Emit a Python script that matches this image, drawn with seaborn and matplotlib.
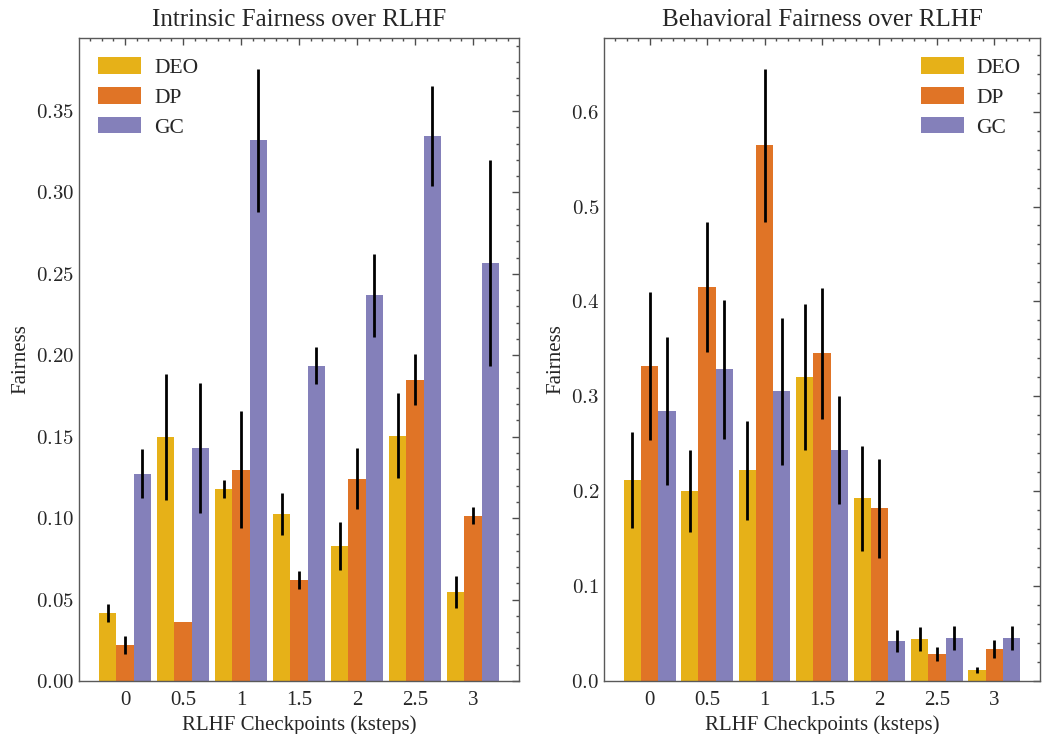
import pandas as pd
import matplotlib
matplotlib.use('Agg')
import matplotlib.pyplot as plt
import seaborn as sns
import numpy as np
from matplotlib.ticker import AutoMinorLocator, FormatStrFormatter

# checkpoints and metrics
checkpoints = ['0', '0.5', '1', '1.5', '2', '2.5', '3']
metrics = ['DEO', 'DP', 'GC']

# intrinsic fairness (left panel)
intr_deo = [0.0418, 0.150, 0.118, 0.1027, 0.083, 0.1506, 0.0547]
intr_dp = [0.0221, 0.0363, 0.1297, 0.0621, 0.1242, 0.185, 0.1014]
intr_gc = [0.1273, 0.1432, 0.332, 0.1936, 0.2368, 0.3346, 0.2565]
intr_deo_err = [0.0055, 0.0387, 0.0055, 0.013, 0.0148, 0.0262, 0.010]
intr_dp_err = [0.0058, 0.0, 0.036, 0.0057, 0.0186, 0.0158, 0.0053]
intr_gc_err = [0.015, 0.040, 0.044, 0.0115, 0.0253, 0.0305, 0.0633]

# behavioral fairness (right panel)
beh_deo = [0.2116, 0.200, 0.2221, 0.320, 0.1926, 0.0442, 0.0116]
beh_dp = [0.332, 0.4156, 0.5643, 0.3453, 0.1821, 0.0284, 0.0337]
beh_gc = [0.2842, 0.3284, 0.3053, 0.2432, 0.0421, 0.0453, 0.0453]
beh_deo_err = [0.0507, 0.0435, 0.0523, 0.077, 0.0553, 0.0126, 0.003]
beh_dp_err = [0.0776, 0.0684, 0.081, 0.069, 0.0523, 0.0077, 0.0093]
beh_gc_err = [0.0778, 0.0733, 0.0776, 0.057, 0.0118, 0.013, 0.0128]

colors = ['#E6B118', '#E07426', '#8480BA']

sns.set_theme(style='white')
plt.rcParams['font.family'] = ['Liberation Serif', 'DejaVu Serif']
plt.rcParams['mathtext.fontset'] = 'cm'
plt.rcParams['axes.edgecolor'] = '0.35'
plt.rcParams['axes.linewidth'] = 1.0


def make_df(deo, dp, gc, deo_e, dp_e, gc_e):
    rows = []
    for m, vals, errs in zip(metrics, [deo, dp, gc], [deo_e, dp_e, gc_e]):
        for c, v, e in zip(checkpoints, vals, errs):
            rows.append({'ckpt': c, 'metric': m, 'value': v, 'err': e})
    return pd.DataFrame(rows)


df_intr = make_df(intr_deo, intr_dp, intr_gc, intr_deo_err, intr_dp_err, intr_gc_err)
df_beh = make_df(beh_deo, beh_dp, beh_gc, beh_deo_err, beh_dp_err, beh_gc_err)

fig, axes = plt.subplots(1, 2, figsize=(10.46, 7.34), dpi=100)
axes[0].set_position([79 / 1046, 53 / 734, 440 / 1046, 643 / 734])
axes[1].set_position([604 / 1046, 53 / 734, 436 / 1046, 643 / 734])

panels = [(axes[0], df_intr, 'Intrinsic Fairness over RLHF', 'upper left', '$%.2f$'),
          (axes[1], df_beh, 'Behavioral Fairness over RLHF', 'upper right', '$%.1f$')]

for ax, df, title, loc, fmt in panels:
    sns.barplot(data=df, x='ckpt', y='value', hue='metric', order=checkpoints,
                hue_order=metrics, palette=colors, width=0.9, gap=0,
                saturation=1, errorbar=None, linewidth=0, ax=ax)
    # error bars on top of each bar
    for cont, m in zip(ax.containers, metrics):
        sub = df[df['metric'] == m]
        xs = [p.get_x() + p.get_width() / 2 for p in cont.patches]
        hs = [p.get_height() for p in cont.patches]
        ax.errorbar(xs, hs, yerr=sub['err'].values, fmt='none', ecolor='black',
                    elinewidth=2, capsize=0)
    ax.set_xlim(-0.795, 6.795)
    ax.set_ylim(bottom=0)
    ax.yaxis.set_major_formatter(FormatStrFormatter(fmt))
    ax.xaxis.set_minor_locator(AutoMinorLocator(5))
    ax.yaxis.set_minor_locator(AutoMinorLocator(5))
    ax.tick_params(which='both', direction='in', top=True, right=True,
                   color='0.3', width=1)
    ax.tick_params(which='major', length=5, labelsize=15)
    ax.tick_params(which='minor', length=2.5)
    ax.tick_params(axis='x', which='major', pad=7)
    ax.set_title(title, fontsize=18, pad=9)
    ax.set_xlabel('RLHF Checkpoints (ksteps)', fontsize=15, labelpad=4)
    ax.set_ylabel('Fairness', fontsize=15)
    ax.legend(loc=loc, frameon=False, fontsize=15.5, handlelength=2.0,
              handleheight=0.8, handletextpad=0.6, labelspacing=0.42)

fig.savefig('out.png', dpi=100)
